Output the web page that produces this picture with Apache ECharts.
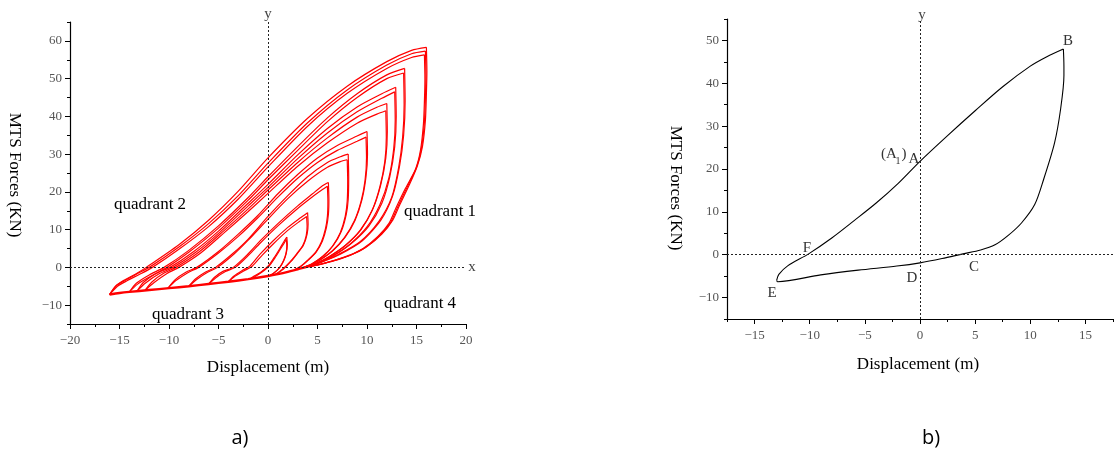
<!DOCTYPE html>
<html>
<head>
<meta charset="utf-8">
<script src="https://cdn.jsdelivr.net/npm/echarts/dist/echarts.min.js"></script>
<style>html,body{margin:0;padding:0;background:#fff}#c{width:1116px;height:452px}</style>
</head>
<body>
<div id="c"></div>
<script>
// ---------- Tick values ----------
const LEFT_Y_MAJOR = [-10, 0, 10, 20, 30, 40, 50, 60];
const RIGHT_X_MAJOR = [-15, -10, -5, 0, 5, 10, 15];
const RIGHT_Y_MAJOR = [-10, 0, 10, 20, 30, 40, 50];

// ---------- Panel a) : hysteresis loops (displacement, force) ----------
const LOWER = [[-16,-7.2],[-15,-6.8],[-14,-6.5],[-12,-6],[-10,-5.5],[-8,-5],[-6,-4.4],[-4,-3.8],[-2,-3.1],[0,-2.3],[1,-1.8],[2,-1.2],[3,-0.5],[4,0.2],[5,0.8]];

const D16A_UP = [[-16,-7.2],[-15.4,-5],[-14.6,-3.5],[-13.4,-1.8],[-12.3,0],[-9,6],[-6,12.5],[-3,20.2],[0,29],[4,39.5],[8,48],[12,54.5],[14.5,57.5],[16,58.3]];
const D16A_DN = [[16,58.3],[16.05,52],[16,46],[15.9,39],[15.6,32],[15.1,27],[14.3,22],[13.3,16.5],[12.6,12.5],[11.5,8.8],[10,5.5],[8.5,3.4],[7,2],[5.5,1],[4.3,0.3]];
const D16B_UP = [[-16,-7.2],[-15.3,-4.8],[-14.4,-3.4],[-13.3,-1.8],[-12,0],[-9,5.4],[-6,11.6],[-3,19],[0,27.6],[4,38.3],[8,47],[12,53.6],[14.5,56.6],[15.9,57.3]];
const D16B_DN = [[15.9,57.3],[15.95,51],[15.9,45],[15.8,38.5],[15.5,31.5],[15,26.5],[14.1,21.5],[13.1,16],[12.4,12],[11.3,8.5],[9.8,5.2],[8.3,3.2],[6.8,1.9],[5.4,0.9],[4.2,0.2]];
const D16C_UP = [[-16,-7.2],[-15.2,-5],[-14.2,-3.5],[-13.1,-2],[-11.8,-0.2],[-9,4.8],[-6,10.8],[-3,18.1],[0,26.6],[4,37.4],[8,46.1],[12,52.7],[14.5,55.6],[15.8,56.3]];
const D16C_DN = [[15.8,56.3],[15.85,50],[15.8,44],[15.7,38],[15.4,31],[14.9,26],[13.9,21],[12.9,15.6],[12.2,11.6],[11.1,8.2],[9.6,5],[8.1,3.1],[6.6,1.8],[5.3,0.8],[4.1,0.2]];

const D14A_UP = [[-14,-6.5],[-13.3,-4.2],[-12,-2],[-10.5,0],[-8,4.5],[-5,11],[-2,18.5],[0,24],[3,32],[6,39.6],[9,46],[12,51],[13.8,52.7]];
const D14A_DN = [[13.8,52.7],[13.85,44],[13.7,35],[13.3,27],[12.6,19],[11.4,12.5],[9.5,7],[7.3,3.5],[5.5,1.5],[4.2,0.3]];
const D14B_UP = [[-14,-6.5],[-13.2,-4.5],[-11.8,-2.3],[-10.2,0],[-8,4],[-5,10.4],[-2,17.8],[0,23.2],[3,31],[6,38.6],[9,45],[12,50],[13.7,51.5]];
const D14B_DN = [[13.7,51.5],[13.75,43],[13.6,34.5],[13.2,26.5],[12.5,18.6],[11.2,12.2],[9.3,6.8],[7.1,3.4],[5.4,1.4],[4.1,0.3]];

const D13A_UP = [[-13.2,-6.2],[-12.6,-4],[-11.3,-1.6],[-9.9,0],[-7.5,4.2],[-5,9.6],[-2,17],[0,22],[3,29.8],[6,36.8],[9,42.5],[11.5,46],[12.9,47.7]];
const D13A_DN = [[12.9,47.7],[12.95,40],[12.8,32],[12.3,24],[11.5,17],[10.2,11],[8.5,6.5],[6.7,3.2],[5.2,1.3],[4,0.2]];
const D13B_UP = [[-13.2,-6.2],[-12.4,-4.2],[-11,-1.7],[-9.6,0],[-7.3,4],[-5,9],[-2,16.3],[0,21.2],[3,28.8],[6,35.6],[9,41.2],[11.5,44.8],[12.8,46.5]];
const D13B_DN = [[12.8,46.5],[12.85,39],[12.7,31.5],[12.2,23.6],[11.3,16.6],[10,10.7],[8.3,6.2],[6.5,3],[5.1,1.2],[3.9,0.2]];

const D12A_UP = [[-12.4,-6],[-11.7,-3.8],[-10.5,-1.5],[-9.3,0],[-7,4],[-4.5,9.6],[-2,15.5],[0,20.5],[3,27.8],[6,34.3],[9,39.8],[11,42.4],[12,43.4]];
const D12A_DN = [[12,43.4],[12.05,36],[11.9,29],[11.4,22],[10.6,15.5],[9.4,10],[7.9,6],[6.3,3],[5,1.2],[3.9,0.2]];
const D12B_UP = [[-12.4,-6],[-11.5,-4],[-10.2,-1.6],[-9,0],[-6.8,3.8],[-4.5,9],[-2,14.8],[0,19.6],[3,26.8],[6,33],[9,38.2],[11,40.6],[11.9,41.5]];
const D12B_DN = [[11.9,41.5],[11.95,34.5],[11.8,28],[11.3,21.3],[10.5,15],[9.3,9.8],[7.8,5.8],[6.2,2.9],[4.9,1.1],[3.8,0.1]];

const D10A_UP = [[-10.1,-5.5],[-9.4,-3.3],[-8.3,-1.3],[-7.2,0],[-5,4.2],[-3,8.8],[-1,13.8],[1,19.5],[3,24.6],[5,29],[7,32.3],[9,34.8],[10,36]];
const D10A_DN = [[10,36],[10.05,30],[9.9,24],[9.5,18],[8.8,12.5],[7.8,8],[6.6,4.5],[5.3,2],[4.2,0.4]];
const D10B_UP = [[-10.1,-5.5],[-9.3,-3.5],[-8.1,-1.4],[-7,0],[-5,3.8],[-3,8.2],[-1,13.2],[1,18.6],[3,23.6],[5,27.8],[7,31],[9,33.4],[9.9,34.5]];
const D10B_DN = [[9.9,34.5],[9.95,29],[9.8,23],[9.4,17.5],[8.7,12.2],[7.7,7.8],[6.5,4.4],[5.2,1.9],[4.1,0.3]];

const D8A_UP = [[-8,-5],[-7.3,-3],[-6.3,-1.2],[-5.3,0],[-3.5,3.8],[-2,7.5],[0,13.5],[2,19],[4,24],[6,27.8],[7.3,29.3],[8.1,30]];
const D8A_DN = [[8.1,30],[8.15,24],[8.1,18],[7.9,14],[7.4,9.5],[6.6,5.8],[5.6,3],[4.5,1],[3.6,0]];
const D8B_UP = [[-8,-5],[-7.2,-3.2],[-6.1,-1.3],[-5.1,0],[-3.4,3.6],[-2,7.2],[0,12.8],[2,18.2],[4,22.8],[6,26.5],[7.3,28],[8,28.5]];
const D8B_DN = [[8,28.5],[8.05,23],[8,17.5],[7.8,13.5],[7.3,9.2],[6.5,5.6],[5.5,2.9],[4.4,0.9],[3.5,-0.1]];

const D6A_UP = [[-6,-4.4],[-5.4,-2.6],[-4.5,-1],[-3.5,0],[-2,3.6],[-0.8,7],[1,11.6],[3,16.3],[4.5,19.5],[5.5,21.6],[6.1,22.5]];
const D6A_DN = [[6.1,22.5],[6.15,18],[6.1,14],[5.9,10.5],[5.5,7],[4.9,4.2],[4.1,2],[3.4,0.4],[2.8,-0.6]];
const D6B_UP = [[-6,-4.4],[-5.3,-2.8],[-4.3,-1.1],[-3.3,0],[-1.9,3.4],[-0.8,6.4],[1,11],[3,15.6],[4.5,18.7],[5.5,20.6],[6,21.5]];
const D6B_DN = [[6,21.5],[6.05,17.5],[6,13.5],[5.8,10.2],[5.4,6.8],[4.8,4],[4,1.9],[3.3,0.3],[2.7,-0.6]];

const D4A_UP = [[-4,-3.8],[-3.5,-2.4],[-2.6,-0.8],[-1.8,0.4],[-0.8,3.5],[0.5,7],[2,10.6],[3.2,13],[4,14.5]];
const D4A_DN = [[4,14.5],[4.05,11.5],[3.95,8.8],[3.6,6],[3,3.8],[2.3,1.5],[1.5,-0.6],[0.8,-1.9]];
const D4B_UP = [[-4,-3.8],[-3.4,-2.5],[-2.4,-0.9],[-1.6,0.3],[-0.6,3.2],[0.6,6.4],[2,9.8],[3.2,12.2],[3.9,13.5]];
const D4B_DN = [[3.9,13.5],[3.95,10.8],[3.85,8.3],[3.5,5.7],[2.9,3.6],[2.2,1.4],[1.4,-0.6],[0.7,-1.9]];

const D2A_UP = [[-1.9,-3.2],[-1.4,-2.3],[-0.7,-1.2],[0,0.3],[0.6,2.5],[1.2,5],[1.6,6.8],[1.9,8]];
const D2A_DN = [[1.9,8],[1.95,6],[1.85,3.8],[1.6,1.8],[1.2,0],[0.6,-1.5],[0.2,-2.1]];
const D2B_UP = [[-1.9,-3.2],[-1.3,-2.4],[-0.6,-1.2],[0.1,0.3],[0.7,2.5],[1.2,4.6],[1.6,6.3],[1.85,7.4]];
const D2B_DN = [[1.85,7.4],[1.9,5.6],[1.8,3.6],[1.55,1.7],[1.15,-0.1],[0.6,-1.5],[0.2,-2.1]];

// ---------- Panel b) : single loop ----------
const RIGHT_UP = [[-13.0,-6.0],[-12.8,-4.6],[-12,-2.6],[-10.1,0.2],[-8,3.9],[-6,7.9],[-4,12],[-2,16.6],[0,21.8],[2.5,27.8],[5,33.6],[7.5,39.2],[10,44],[11.5,46.2],[13,48]];
const RIGHT_DN = [[13,48],[13.05,44],[13.05,41.8],[12.75,34],[12.2,26.1],[11.2,17.5],[10.4,11.7],[9.2,7.4],[8,4.5],[6.8,2.3],[5.5,1.1],[3.9,0.2],[2,-0.9],[0,-1.9],[-2.1,-2.65],[-5.6,-3.6],[-9,-4.7],[-12.9,-6.3],[-13,-6]];

const LEFT_BRANCHES = [D16A_UP,D16A_DN,D16B_UP,D16B_DN,D16C_UP,D16C_DN,D14A_UP,D14A_DN,D14B_UP,D14B_DN,
  D13A_UP,D13A_DN,D13B_UP,D13B_DN,D12A_UP,D12A_DN,D12B_UP,D12B_DN,D10A_UP,D10A_DN,D10B_UP,D10B_DN,
  D8A_UP,D8A_DN,D8B_UP,D8B_DN,D6A_UP,D6A_DN,D6B_UP,D6B_DN,D4A_UP,D4A_DN,D4B_UP,D4B_DN,D2A_UP,D2A_DN,D2B_UP,D2B_DN];

const SERIF = '"Liberation Serif", "DejaVu Serif", serif';
const fmtNum = v => (v < 0 ? '\u2212' : '') + Math.abs(v);
const tickLabel = {color:'#555', fontFamily:SERIF, fontSize:13};
const axLine = {show:true, onZero:false, lineStyle:{color:'#000', width:1.2}};
const noLine = {show:false, onZero:false};

const zeroLines = {
  silent:true, symbol:'none', label:{show:false}, animation:false,
  lineStyle:{type:[2,2], color:'#222', width:1},
  data:[{xAxis:0},{yAxis:0}]
};

const series = [];
LEFT_BRANCHES.forEach(b => series.push({
  type:'line', data:b, xAxisIndex:0, yAxisIndex:0, symbol:'none', smooth:0.25,
  lineStyle:{color:'#ff0000', width:1.2}, silent:true
}));
series.push({type:'line', data:LOWER, xAxisIndex:0, yAxisIndex:0, symbol:'none', smooth:0.3,
  lineStyle:{color:'#ff0000', width:2.4}, silent:true, markLine:zeroLines});
series.push({type:'line', data:RIGHT_UP, xAxisIndex:1, yAxisIndex:2, symbol:'none', smooth:0.3,
  lineStyle:{color:'#000', width:1.1}, silent:true, markLine:zeroLines});
series.push({type:'line', data:RIGHT_DN, xAxisIndex:1, yAxisIndex:2, symbol:'none', smooth:0.3,
  lineStyle:{color:'#000', width:1.1}, silent:true});

function txt(x, y, text, font, fill, extra) {
  return Object.assign({type:'text', x:x, y:y, silent:true,
    style:{text:text, font:font, fill:fill, align:'center', verticalAlign:'middle'}}, extra || {});
}
const F17 = '17px ' + SERIF;
const F15 = '15px ' + SERIF;
const graphics = [
  txt(14, 175, 'MTS Forces (KN)', F17, '#000', {rotation:-Math.PI/2}),
  txt(268, 368, 'Displacement (m)', F17, '#000'),
  txt(675, 188, 'MTS Forces (KN)', F17, '#000', {rotation:-Math.PI/2}),
  txt(918, 365, 'Displacement (m)', F17, '#000'),
  txt(150, 205, 'quadrant 2', F17, '#000'),
  txt(440, 212, 'quadrant 1', F17, '#000'),
  txt(188, 315, 'quadrant 3', F17, '#000'),
  txt(420, 304, 'quadrant 4', F17, '#000'),
  txt(472, 267, 'x', F15, '#444'),
  txt(268, 14, 'y', F15, '#444'),
  txt(922, 15, 'y', F15, '#444'),
  txt(1068, 41, 'B', F15, '#333'),
  txt(914, 159, 'A', F15, '#333'),
  txt(889, 154, '(A', F15, '#333'),
  txt(898, 161, '1', '10px ' + SERIF, '#333'),
  txt(904, 154, ')', F15, '#333'),
  txt(974, 267, 'C', F15, '#333'),
  txt(912, 278, 'D', F15, '#333'),
  txt(772, 293, 'E', F15, '#333'),
  txt(807, 248, 'F', F15, '#333'),
  txt(240, 438, 'a)', '20px "Open Sans", "Liberation Sans", sans-serif', '#000'),
  txt(931, 438, 'b)', '20px "Open Sans", "Liberation Sans", sans-serif', '#000')
];

const option = {
  animation:false,
  backgroundColor:'#fff',
  grid:[
    {left:70, top:22, width:396, height:302},
    {left:727, top:19, width:393, height:300}
  ],
  xAxis:[
    {gridIndex:0, type:'value', min:-20, max:20, interval:5, axisLine:axLine,
      axisTick:{show:true, length:5, lineStyle:{color:'#000'}},
      minorTick:{show:true, splitNumber:2, length:3, lineStyle:{color:'#000'}},
      splitLine:{show:false}, axisLabel:Object.assign({margin:10, formatter:fmtNum}, tickLabel)},
    {gridIndex:1, type:'value', min:-17.5, max:17.5, interval:2.5, position:'bottom', axisLine:axLine,
      axisTick:{show:true, length:3, lineStyle:{color:'#000'}},
      splitLine:{show:false},
      axisLabel:Object.assign({margin:10, formatter:v => (Math.abs(v % 5) < 1e-9 ? fmtNum(v) : '')}, tickLabel)},
    {gridIndex:1, type:'value', min:-17.5, max:17.5, position:'bottom', axisLine:noLine,
      axisTick:{show:true, length:5, customValues:RIGHT_X_MAJOR, lineStyle:{color:'#000'}},
      axisLabel:{show:false}, splitLine:{show:false}}
  ],
  yAxis:[
    {gridIndex:0, type:'value', min:-15, max:65, interval:5, position:'left', axisLine:axLine,
      axisTick:{show:true, length:3, lineStyle:{color:'#000'}}, splitLine:{show:false},
      axisLabel:Object.assign({margin:8, formatter:v => (Math.abs(v % 10) < 1e-9 ? fmtNum(v) : '')}, tickLabel)},
    {gridIndex:0, type:'value', min:-15, max:65, position:'left', axisLine:noLine,
      axisTick:{show:true, length:5, customValues:LEFT_Y_MAJOR, lineStyle:{color:'#000'}},
      axisLabel:{show:false}, splitLine:{show:false}},
    {gridIndex:1, type:'value', min:-15, max:55, interval:5, position:'left', axisLine:axLine,
      axisTick:{show:true, length:3, lineStyle:{color:'#000'}}, splitLine:{show:false},
      axisLabel:Object.assign({margin:8, formatter:v => (Math.abs(v % 10) < 1e-9 ? fmtNum(v) : '')}, tickLabel)},
    {gridIndex:1, type:'value', min:-15, max:55, position:'left', axisLine:noLine,
      axisTick:{show:true, length:5, customValues:RIGHT_Y_MAJOR, lineStyle:{color:'#000'}},
      axisLabel:{show:false}, splitLine:{show:false}}
  ],
  series:series,
  graphic:graphics
};
const chart = echarts.init(document.getElementById('c'), null, {renderer:'canvas'});
chart.setOption(option);
</script>
</body>
</html>
